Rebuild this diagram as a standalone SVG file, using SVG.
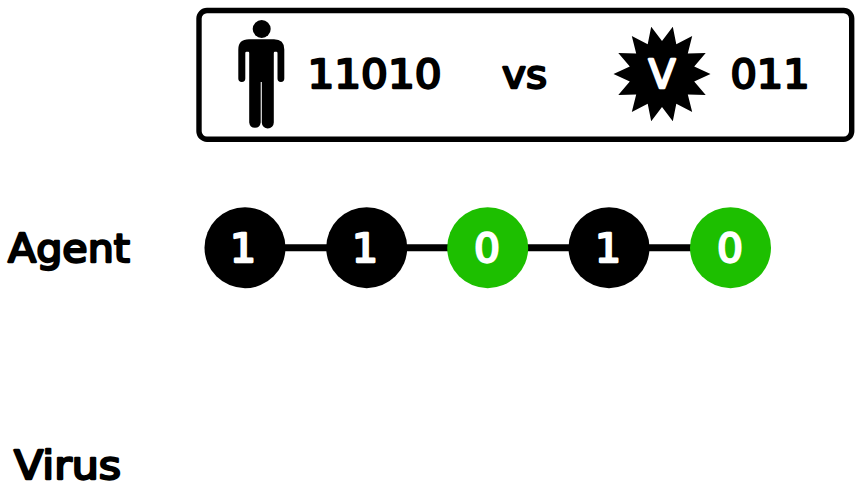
<svg xmlns="http://www.w3.org/2000/svg" width="861" height="495" viewBox="0 0 861 495">
<style>
text{font-family:"DejaVu Sans",sans-serif;font-weight:400;font-size:39.500px;fill:#000;stroke:#000;stroke-width:2.300px;stroke-linejoin:round}
text.w{fill:#fff;stroke:#fff;text-anchor:middle}
.k{fill:#000}
.g{fill:#1dbf00}
.c{stroke:#000;stroke-width:7;fill:none}
</style>
<rect width="861" height="495" fill="#fff"/>
<g id="banner">
<rect x="199" y="10.500" width="652.700" height="128.700" rx="8" fill="#fff" stroke="#000" stroke-width="5.400"/>
</g>
<g id="agent-icon">
<circle cx="261.700" cy="29" r="9"/>
<path d="M249 39.300H274Q284.300 39.300 284.300 49.500V78.500a3.400 3.400 0 0 1-6.800 0V53Q277.500 51.700 276.300 51.700H274.800Q273.800 51.700 273.800 53V122.500a6 6 0 0 1-12 0V82H260.700V122.500a5.800 6 0 0 1-11.500 0V53Q249.200 51.700 248.200 51.700H246.500Q245.300 51.700 245.300 53V78.500a3.500 3.400 0 0 1-7 0V49.500Q238.300 39.300 249 39.300Z"/>
<text x="307.500" y="88" textLength="134" lengthAdjust="spacingAndGlyphs">11010</text>
</g>
<g id="vs"><text x="502" y="88" textLength="45" lengthAdjust="spacingAndGlyphs">vs</text></g>
<g id="virus-icon">
<polygon transform="translate(662 74)" points="48.500,0 32.200,7.400 43.700,21 25.800,20.600 30.200,37.900 14.300,29.700 10.800,47.300 0,33 -10.800,47.300 -14.300,29.700 -30.200,37.900 -25.800,20.600 -43.700,21 -32.200,7.400 -48.500,0 -32.200,-7.400 -43.700,-21 -25.800,-20.600 -30.200,-37.900 -14.300,-29.700 -10.800,-47.300 0,-33 10.800,-47.300 14.300,-29.700 30.200,-37.900 25.800,-20.600 43.700,-21 32.200,-7.400"/>
<text class="w" x="662" y="88" textLength="27" lengthAdjust="spacingAndGlyphs">V</text>
<text x="730.500" y="88" textLength="79" lengthAdjust="spacingAndGlyphs">011</text>
</g>
<g id="labels">
<text x="8" y="262" textLength="122" lengthAdjust="spacingAndGlyphs">Agent</text>
<text x="14" y="479" textLength="107" lengthAdjust="spacingAndGlyphs">Virus</text>
</g>
<g id="connectors">
<line class="c" x1="245" y1="247.700" x2="730" y2="247.700"/>
</g>
<g id="n1"><circle class="k" cx="245" cy="247.700" r="40.500"/><text class="w" x="243" y="262" textLength="26" lengthAdjust="spacingAndGlyphs">1</text></g>
<g id="n2"><circle class="k" cx="366.700" cy="247.700" r="40.500"/><text class="w" x="365" y="262" textLength="26" lengthAdjust="spacingAndGlyphs">1</text></g>
<g id="n3"><circle class="g" cx="487.700" cy="247.700" r="40.500"/><text class="w" x="487" y="262" textLength="26" lengthAdjust="spacingAndGlyphs">0</text></g>
<g id="n4"><circle class="k" cx="609" cy="247.700" r="40.500"/><text class="w" x="608" y="262" textLength="26" lengthAdjust="spacingAndGlyphs">1</text></g>
<g id="n5"><circle class="g" cx="730.500" cy="247.700" r="40.500"/><text class="w" x="730" y="262" textLength="26" lengthAdjust="spacingAndGlyphs">0</text></g>
</svg>
